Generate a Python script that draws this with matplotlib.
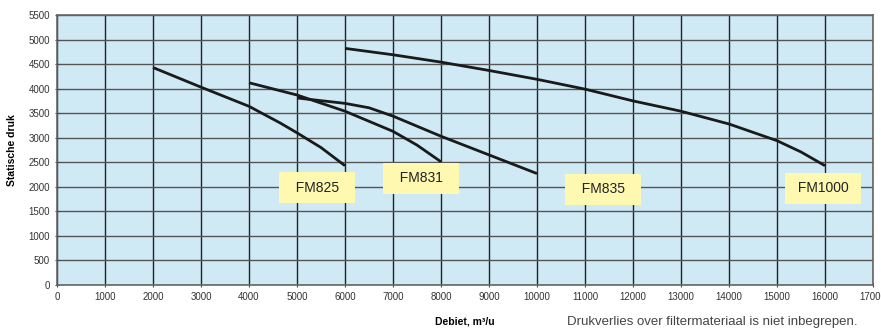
import matplotlib
matplotlib.use("Agg")
import matplotlib.pyplot as plt
import numpy as np

plt.rcParams['font.family'] = ['Liberation Sans', 'DejaVu Sans']

fm825_x = [2000, 3000, 4000, 4650, 5000, 5500, 6000]
fm825_y = [4430, 4030, 3640, 3300, 3100, 2800, 2430]

fm831_x = [4000, 5000, 6000, 7000, 7500, 8000]
fm831_y = [4120, 3870, 3540, 3130, 2850, 2510]

fm835_x = [5000, 6000, 6500, 7000, 8000, 9000, 10000]
fm835_y = [3810, 3700, 3610, 3440, 3030, 2650, 2270]

fm1000_x = [6000, 7000, 8000, 9000, 10000, 11000, 12000, 13000, 14000, 15000, 15500, 16000]
fm1000_y = [4820, 4690, 4540, 4370, 4190, 3990, 3750, 3540, 3280, 2940, 2710, 2430]

labels = ["FM825", "FM831", "FM835", "FM1000"]
label_x = [5420, 7580, 11380, 15960]
label_y = [1980, 2170, 1950, 1970]

x_ticks = list(range(0, 17001, 1000))
y_ticks = list(range(0, 5501, 500))

fig = plt.figure(figsize=(8.81, 3.29), dpi=100)
ax = fig.add_axes([57/881, 44/329, 816/881, 270/329])
ax.set_facecolor('#cfeaf4')
ax.set_xlim(0, 17000)
ax.set_ylim(0, 5500)
ax.set_xticks(x_ticks)
ax.set_yticks(y_ticks)
ax.tick_params(labelsize=7, colors='#444444', labelcolor='#333333', length=3, width=0.8, direction='inout')
ax.xaxis.grid(True, color='#222222', linewidth=1.0)
ax.yaxis.grid(True, color='#555555', linewidth=1.0)
ax.set_axisbelow(True)
for s in ax.spines.values():
    s.set_color('#666666')
    s.set_linewidth(1.2)

for xs, ys in [(fm825_x, fm825_y), (fm831_x, fm831_y), (fm835_x, fm835_y), (fm1000_x, fm1000_y)]:
    ax.plot(xs, ys, color='#1a1a1a', linewidth=2.0, solid_capstyle='butt', zorder=3)

for t, lx, ly in zip(labels, label_x, label_y):
    s = '  ' + t + '  ' if len(t) == 5 else ' ' + t + ' '
    ax.text(lx, ly, s, fontsize=10, color='#222222', ha='center', va='center', zorder=4,
            bbox=dict(boxstyle='square,pad=0.62', facecolor='#fff8b0', edgecolor='none'))

ax.set_ylabel('Statische druk', fontsize=7.5, fontweight='bold', labelpad=8)
fig.text(465/881, 1 - 322/329, 'Debiet, m\u00b3/u', fontsize=7.5, fontweight='bold',
         ha='center', va='center')
fig.text(567/881, 1 - 322/329, 'Drukverlies over filtermateriaal is niet inbegrepen.',
         fontsize=9.5, color='#444444', ha='left', va='center')

fig.savefig('out.png', dpi=100)
